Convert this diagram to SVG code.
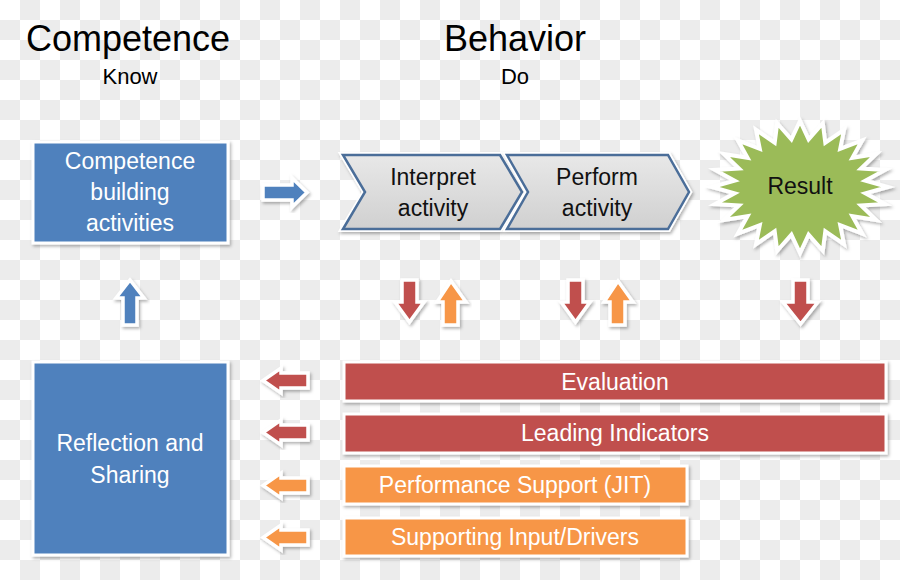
<svg xmlns="http://www.w3.org/2000/svg" width="900" height="580" viewBox="0 0 900 580">
<style>
.t{font-family:"Liberation Sans",Arial,sans-serif;text-anchor:middle}
.title{font-size:36px;fill:#000}
.sub{font-size:22px;fill:#000}
.w{font-size:23px;fill:#fff}
.b{font-size:23px;fill:#111}
.box{stroke:#fff;stroke-width:3;filter:url(#sh)}
.blue{fill:#4f81bd}
.red{fill:#c0504d}
.orange{fill:#f79646}
.arr{stroke:#fff;stroke-width:3.5;stroke-linejoin:miter;filter:url(#sh)}
</style>
<defs>
<pattern id="chk" width="40" height="40" patternUnits="userSpaceOnUse">
<rect width="40" height="40" fill="#fff"/>
<rect x="20" y="0" width="20" height="20" fill="#ececec"/>
<rect x="0" y="20" width="20" height="20" fill="#ececec"/>
</pattern>
<filter id="sh" x="-20%" y="-20%" width="140%" height="140%">
<feDropShadow dx="1.5" dy="2" stdDeviation="1.5" flood-color="#000" flood-opacity="0.3"/>
</filter>
<linearGradient id="gr" x1="0" y1="0" x2="0" y2="1">
<stop offset="0" stop-color="#e8e8e8"/>
<stop offset="1" stop-color="#d0d0d0"/>
</linearGradient>
</defs>
<rect width="900" height="580" fill="url(#chk)"/>

<g id="headers">
<text class="t title" x="128" y="51">Competence</text>
<text class="t sub" x="130" y="84">Know</text>
<text class="t title" x="515" y="51">Behavior</text>
<text class="t sub" x="515" y="84">Do</text>
</g>

<g id="competence-building">
<rect class="box blue" x="33" y="142" width="195" height="101"/>
<text class="t w" x="130" y="169">Competence</text>
<text class="t w" x="130" y="200">building</text>
<text class="t w" x="130" y="231">activities</text>
</g>

<g id="interpret">
<polygon points="343,155 500,155 522,192 500,229 343,229 365,192" fill="url(#gr)" stroke="#fff" stroke-width="6" filter="url(#sh)"/>
<polygon points="343,155 500,155 522,192 500,229 343,229 365,192" fill="url(#gr)" stroke="#4b6e99" stroke-width="2.5"/>
<text class="t b" x="433" y="185">Interpret</text>
<text class="t b" x="433" y="216">activity</text>
</g>

<g id="perform">
<polygon points="507,155 668,155 689,192 668,229 507,229 528,192" fill="url(#gr)" stroke="#fff" stroke-width="6" filter="url(#sh)"/>
<polygon points="507,155 668,155 689,192 668,229 507,229 528,192" fill="url(#gr)" stroke="#4b6e99" stroke-width="2.5"/>
<text class="t b" x="597" y="185">Perform</text>
<text class="t b" x="597" y="216">activity</text>
</g>

<g id="result">
<polygon fill="#9bbb59" stroke="#fff" stroke-width="4" stroke-linejoin="miter" filter="url(#sh)" points="888,187 865.4,193.3 885,204.1 861,205.4 876.2,220 852.4,216.2 862.2,233.7 840.2,225.1 844,244.2 825.3,231.3 822.8,250.7 808.6,234.6 800,253 791.4,234.6 777.2,250.7 774.7,231.3 756,244.2 759.8,225.1 737.8,233.7 747.6,216.2 723.8,220 739,205.4 715,204.1 734.6,193.3 712,187 734.6,180.7 715,169.9 739,168.6 723.8,154 747.6,157.8 737.8,140.3 759.8,148.9 756,129.8 774.7,142.7 777.2,123.3 791.4,139.4 800,121 808.6,139.4 822.8,123.3 825.3,142.7 844,129.8 840.2,148.9 862.2,140.3 852.4,157.8 876.2,154 861,168.6 885,169.9 865.4,180.7"/>
<text class="t b" x="800" y="194">Result</text>
</g>

<g id="reflection">
<rect class="box blue" x="33" y="362" width="195" height="193"/>
<text class="t w" x="130" y="451">Reflection and</text>
<text class="t w" x="130" y="483">Sharing</text>
</g>

<g id="evaluation">
<rect class="box red" x="344" y="362" width="542" height="39"/>
<text class="t w" x="615" y="390">Evaluation</text>
</g>
<g id="leading-indicators">
<rect class="box red" x="344" y="414" width="542" height="39"/>
<text class="t w" x="615" y="441">Leading Indicators</text>
</g>
<g id="performance-support">
<rect class="box orange" x="344" y="466" width="343" height="38"/>
<text class="t w" x="515" y="493">Performance Support (JIT)</text>
</g>
<g id="supporting-input">
<rect class="box orange" x="344" y="518" width="343" height="38"/>
<text class="t w" x="515" y="545">Supporting Input/Drivers</text>
</g>

<g id="connectors">
<polygon class="arr blue" points="263,185 292,185 292,178 307,192.5 292,207 292,200 263,200"/>
<polygon class="arr blue" points="123,325 123,298 116,298 130,280 144,298 137,298 137,325"/>
<polygon class="arr red" points="402,280 417,280 417,302 424,302 409.5,322 395,302 402,302"/>
<polygon class="arr orange" points="443,325 443,302 437,302 451,281 466,302 458,302 458,325"/>
<polygon class="arr red" points="568,280 583,280 583,302 590,302 575.5,322 561,302 568,302"/>
<polygon class="arr orange" points="610,325 610,302 604,302 618,281 633,302 625,302 625,325"/>
<polygon class="arr red" points="793,280 808,280 808,302 818,302 800.5,324 783,302 793,302"/>
<polygon class="arr red" points="308,373 281,373 281,368 263,380.5 281,393 281,388 308,388"/>
<polygon class="arr red" points="308,425 281,425 281,420 263,432.5 281,445 281,440 308,440"/>
<polygon class="arr orange" points="308,478 281,478 281,473 263,485.5 281,498 281,493 308,493"/>
<polygon class="arr orange" points="308,530 281,530 281,525 263,537.5 281,550 281,545 308,545"/>
</g>
</svg>
